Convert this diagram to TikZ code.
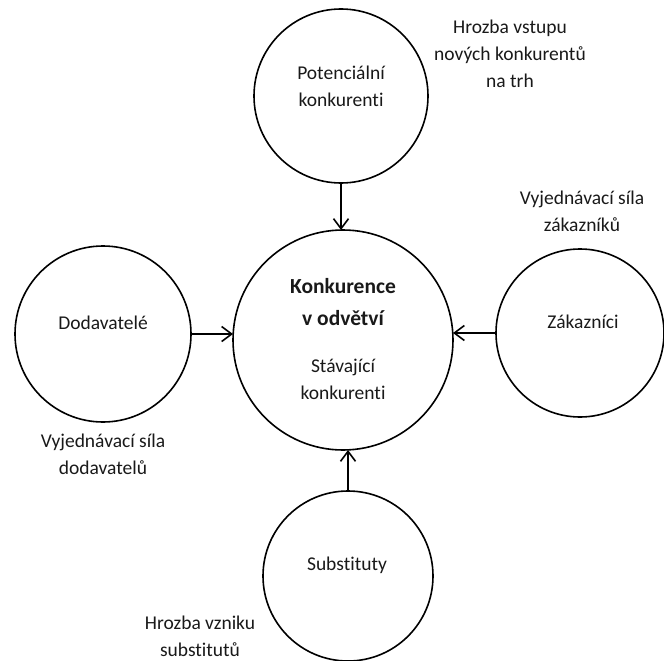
\documentclass[tikz,border=0pt]{standalone}
\usepackage{fontspec}
\setmainfont{Carlito}[Ligatures={NoCommon}]
\usetikzlibrary{arrows.meta}
\tikzset{
  ring/.style={draw=black, line width=1.6pt, circle, inner sep=0pt, outer sep=0pt, minimum size=#1},
  lbl/.style={align=center, inner sep=0pt, font=\fontsize{19.5}{27}\selectfont, text=black!90},
  arr/.style={line width=1.6pt, -{Straight Barb[length=10pt,width=15pt,line width=1.6pt]}}
}
\begin{document}
\begin{tikzpicture}[x=1pt,y=-1pt]
\useasboundingbox (0,0) rectangle (664,661);
% circles
\node[ring=220pt] (mid) at (343,340) {};
\node[ring=174pt] (top) at (341,96) {};
\node[ring=176pt] (lft) at (103,334) {};
\node[ring=168pt] (rgt) at (580,333) {};
\node[ring=170pt] (bot) at (348,576) {};
% texts inside
\node[lbl] (ttop) at (341,86) {Potenciální\\konkurenti};
\node[lbl, font=\fontsize{21.5}{32}\selectfont\bfseries] (tmid1) at (343,302) {Konkurence\\v odvětví};
\node[lbl] (tmid2) at (343,379) {Stávající\\konkurenti};
\node[lbl] (tlft) at (103,323) {Dodavatelé};
\node[lbl] (trgt) at (583,322) {Zákazníci};
\node[lbl] (tbot) at (347,565) {Substituty};
% outer labels
\node[lbl] (ftop) at (510,54) {Hrozba vstupu\\nových konkurentů\\na trh};
\node[lbl] (frgt) at (582,211) {Vyjednávací síla\\zákazníků};
\node[lbl] (flft) at (103,454) {Vyjednávací síla\\dodavatelů};
\node[lbl] (fbot) at (200,636) {Hrozba vzniku\\substitutů};
% arrows
\draw[arr] (top.south) -- (top.south |- mid.north);
\draw[arr] (lft.east) -- (lft.east -| mid.west);
\draw[arr] (rgt.west) -- (rgt.west -| mid.east);
\draw[arr] (bot.north) -- (bot.north |- mid.south);
\end{tikzpicture}
\end{document}
